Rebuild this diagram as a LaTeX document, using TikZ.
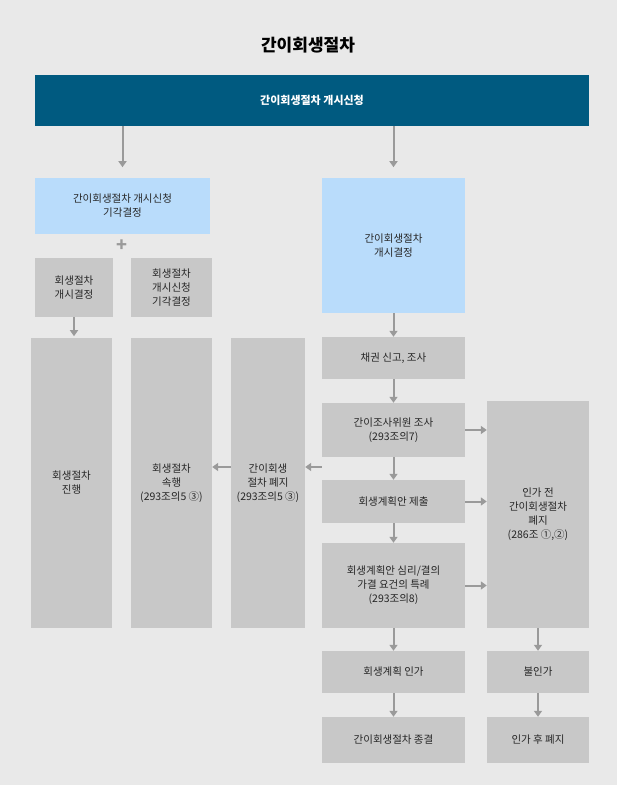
\documentclass[tikz,border=0pt]{standalone}
\usepackage{fontspec}
\setmainfont{Noto Sans CJK KR}
\usetikzlibrary{arrows.meta}
\definecolor{bg}{HTML}{E9E9E9}
\definecolor{gbox}{HTML}{C8C8C8}
\definecolor{bbox}{HTML}{B9DCFB}
\definecolor{topbar}{HTML}{005A80}
\definecolor{arr}{HTML}{9A9A9A}
\tikzset{
 gb/.style={fill=gbox,draw=none,inner sep=0pt,align=center,font=\fontsize{10.5}{14}\selectfont,text=black!85},
 bb/.style={gb,fill=bbox},
 ar/.style={draw=arr,line width=2pt,-{Triangle[length=6pt,width=8pt]},shorten >=0pt}
}
\newcommand{\bx}[6]{\node[#1,minimum width={#4-#2},minimum height={#5-#3}] (#6) at ({(#2+#4)/2},{(#3+#5)/2}) {};}
\begin{document}
\begin{tikzpicture}[x=1pt,y=-1pt]
\fill[bg] (0,0) rectangle (617,785);
\useasboundingbox (0,0) rectangle (617,785);
\node[font=\fontsize{17}{20}\selectfont\bfseries] (title) at (308,45) {간이회생절차};
\node[fill=topbar,minimum width=554,minimum height=51,inner sep=0pt,text=white,font=\fontsize{11}{14}\selectfont\bfseries] (top) at (312,100.5) {간이회생절차 개시신청};
\node[bb,minimum width=175,minimum height=56] (lb) at (122.5,206) {간이회생절차 개시신청\\기각결정};
\node[text=arr,font=\fontsize{18}{18}\selectfont\bfseries] (plus) at (122,246) {+};
\node[gb,minimum width=78,minimum height=59] (l1) at (74,287.5) {회생절차\\개시결정};
\node[gb,minimum width=81,minimum height=59] (l2) at (171.5,287.5) {회생절차\\개시신청\\기각결정};
\node[gb,minimum width=81,minimum height=290] (t1) at (71.5,483) {회생절차\\진행};
\node[gb,minimum width=81,minimum height=290] (t2) at (171.5,483) {회생절차\\속행\\(293조의5 ③)};
\node[gb,minimum width=74,minimum height=290] (t3) at (268,483) {간이회생\\절차 폐지\\(293조의5 ③)};
\node[bb,minimum width=143,minimum height=135] (rb) at (393.5,245.5) {간이회생절차\\개시결정};
\node[gb,minimum width=143,minimum height=42] (m1) at (393.5,358) {채권 신고, 조사};
\node[gb,minimum width=143,minimum height=54] (m2) at (393.5,430) {간이조사위원 조사\\(293조의7)};
\node[gb,minimum width=143,minimum height=43] (m3) at (393.5,501.5) {회생계획안 제출};
\node[gb,minimum width=143,minimum height=85] (m4) at (393.5,585.5) {회생계획안 심리/결의\\가결 요건의 특례\\(293조의8)};
\node[gb,minimum width=143,minimum height=42] (m5) at (393.5,672) {회생계획 인가};
\node[gb,minimum width=143,minimum height=46] (m6) at (393.5,740) {간이회생절차 종결};
\node[gb,minimum width=102,minimum height=227] (r1) at (538,514.5) {인가 전\\간이회생절차\\폐지\\(286조 ①,②)};
\node[gb,minimum width=102,minimum height=42] (r2) at (538,672) {불인가};
\node[gb,minimum width=102,minimum height=46] (r3) at (538,740) {인가 후 폐지};
\draw[ar] (top.south -| lb.north) ++(0,0) -- ++(0,41);
\draw[ar] (top.south -| rb.north) -- ++(0,41);
\draw[ar] (l1.south) -- ++(0,19);
\draw[ar] (rb.south) -- (m1.north);
\draw[ar] (m1.south) -- (m2.north);
\draw[ar] (m2.south) -- (m3.north);
\draw[ar] (m3.south) -- (m4.north);
\draw[ar] (m4.south) -- (m5.north);
\draw[ar] (m5.south) -- (m6.north);
\draw[ar] (r1.south) -- (r2.north);
\draw[ar] (r2.south) -- (r3.north);
\draw[ar] (m2.east) -- (m2.east -| r1.west);
\draw[ar] (m3.east) -- (m3.east -| r1.west);
\draw[ar] (m4.east) -- (m4.east -| r1.west);
\draw[ar] (m1.west |- 467,467) -- (t3.east |- 467,467);
\draw[ar] (t3.west |- 467,467) -- (t2.east |- 467,467);
\end{tikzpicture}
\end{document}
